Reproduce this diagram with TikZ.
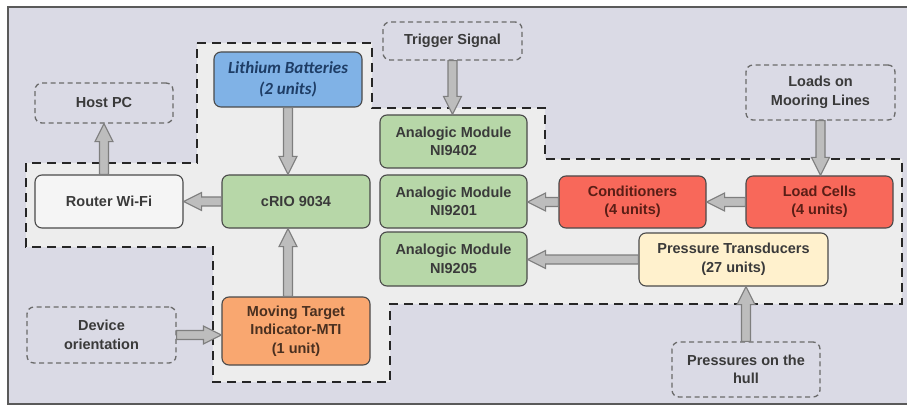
\documentclass[tikz,border=0pt]{standalone}
\usepackage{fontspec}
\setmainfont{Liberation Sans}
\newfontfamily\calib{Carlito}
\usetikzlibrary{calc}
\definecolor{bgc}{HTML}{DADAE5}
\definecolor{innerc}{HTML}{EDEDED}
\definecolor{framec}{HTML}{5A5A5A}
\definecolor{greenc}{HTML}{B7D7A8}
\definecolor{bluec}{HTML}{80B2E6}
\definecolor{redc}{HTML}{F8685A}
\definecolor{orangec}{HTML}{F9A770}
\definecolor{palec}{HTML}{FFF1CD}
\definecolor{whitec}{HTML}{F5F5F5}
\definecolor{borderc}{HTML}{4A4A4A}
\definecolor{txtc}{HTML}{3A3A3A}
\definecolor{redtxt}{HTML}{5A1E16}
\definecolor{orangetxt}{HTML}{4A3020}
\definecolor{bluetxt}{HTML}{1E3D66}
\definecolor{dashc}{HTML}{6A6A6A}
\definecolor{arrfill}{HTML}{BDBDBD}
\definecolor{arrdraw}{HTML}{7E7E7E}
\tikzset{
  box/.style={draw=borderc, line width=1.1pt, rounded corners=7pt, align=center,
    font=\fontsize{14.5}{18.5}\selectfont\bfseries, text=txtc, inner sep=2pt},
  extbox/.style={box, draw=dashc, fill=bgc, line width=1.3pt, dash pattern=on 5pt off 3.5pt},
  modbox/.style={box, fill=greenc, minimum width=147pt, minimum height=53pt},
  arrowsty/.style={draw=arrdraw, fill=arrfill, line width=1.1pt, line join=miter},
  regionsty/.style={draw=black!85, line width=2.2pt, dash pattern=on 9pt off 6pt, fill=innerc}
}
\newcommand\barrow[2]{%
  \coordinate (ah) at ($(#2)!18pt!(#1)$);
  \draw[arrowsty] ($(#1)!4.5pt!90:(#2)$) -- ($(ah)!4.5pt!90:(#2)$) -- ($(ah)!9pt!90:(#2)$) -- (#2)
    -- ($(ah)!9pt!-90:(#2)$) -- ($(ah)!4.5pt!-90:(#2)$) -- ($(#1)!4.5pt!-90:(#2)$) -- cycle;}
\begin{document}
\begin{tikzpicture}[x=1pt,y=-1pt]
\useasboundingbox (0,0) rectangle (907,406);
\fill[white] (0,0) rectangle (907,406);
\fill[bgc] (8,7) rectangle (907,404);
\draw[framec, line width=1.6pt] (907,7) -- (8,7) -- (8,404) -- (907,404);
% inner region
\draw[regionsty] (197,43) -- (372,43) -- (372,108) -- (545,108) -- (545,159) -- (902,159)
  -- (902,304) -- (390,304) -- (390,382) -- (213,382) -- (213,247) -- (26,247)
  -- (26,163) -- (197,163) -- cycle;
% nodes
\node[extbox, minimum width=138pt, minimum height=40pt] (host) at (104,103) {Host PC};
\node[box, fill=bluec, text=bluetxt, minimum width=148pt, minimum height=55pt,
  font=\fontsize{17}{21}\selectfont\calib\bfseries\itshape] (lith) at (288,79.5) {Lithium Batteries\\(2 units)};
\node[extbox, minimum width=139pt, minimum height=38pt] (trig) at (452.5,41) {Trigger Signal};
\node[modbox] (ni9402) at (453.5,141.5) {Analogic Module\\NI9402};
\node[modbox] (ni9201) at (453.5,201.5) {Analogic Module\\NI9201};
\node[modbox, minimum height=54pt] (ni9205) at (453.5,259) {Analogic Module\\NI9205};
\node[box, fill=whitec, minimum width=148pt, minimum height=53pt] (router) at (109,201.5) {Router Wi-Fi};
\node[box, fill=greenc, minimum width=148pt, minimum height=53pt] (crio) at (296,201.5) {cRIO 9034};
\node[box, fill=orangec, text=orangetxt, minimum width=148pt, minimum height=68pt] (mti) at (296,331)
  {Moving Target\\Indicator-MTI\\(1 unit)};
\node[extbox, minimum width=149pt, minimum height=56pt] (device) at (101.5,335) {Device\\orientation};
\node[box, fill=redc, text=redtxt, minimum width=147pt, minimum height=52pt] (cond) at (632.5,202) {Conditioners\\(4 units)};
\node[box, fill=redc, text=redtxt, minimum width=147pt, minimum height=52pt] (loadc) at (819.5,202) {Load Cells\\(4 units)};
\node[extbox, minimum width=149pt, minimum height=55pt] (loads) at (820.5,92.5) {Loads on\\Mooring Lines};
\node[box, fill=palec, minimum width=189pt, minimum height=53pt] (pt) at (733.5,259.5) {Pressure Transducers\\(27 units)};
\node[extbox, minimum width=148pt, minimum height=55pt] (hull) at (746,369.5) {Pressures on the\\hull};
% connector end points
\coordinate (r1) at (router.north -| host.south);
\coordinate (c1) at (crio.north -| lith.south);
\coordinate (n1) at (ni9402.north -| trig.south);
\coordinate (l1) at (loadc.north -| loads.south);
\coordinate (d1) at (ni9201.east |- cond.west);
\coordinate (p1) at (ni9205.east |- pt.west);
\coordinate (h1) at (pt.south -| hull.north);
\coordinate (m1) at (mti.west |- device.east);
\coordinate (m2) at (mti.north -| lith.south);
\coordinate (c2) at (crio.south -| lith.south);
% connectors
\barrow{r1}{host.south}
\barrow{lith.south}{c1}
\barrow{trig.south}{n1}
\barrow{crio.west}{router.east}
\barrow{loads.south}{l1}
\barrow{loadc.west}{cond.east}
\barrow{cond.west}{d1}
\barrow{pt.west}{p1}
\barrow{hull.north}{h1}
\barrow{device.east}{m1}
\barrow{m2}{c2}
\end{tikzpicture}
\end{document}
